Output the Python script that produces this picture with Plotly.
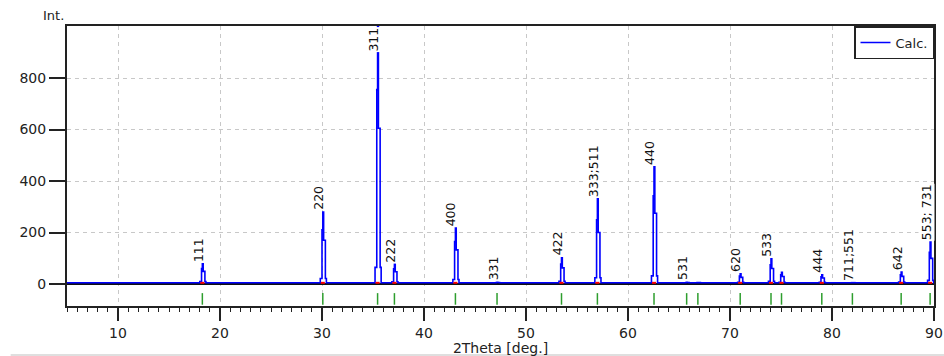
import plotly.graph_objects as go

# ---- data ----
two_theta = [18.27, 30.08, 35.45, 37.10, 43.08, 47.16, 53.48, 57.00, 62.55,
             65.75, 66.85, 71.00, 74.02, 75.05, 79.00, 82.00, 86.78, 89.62]
intensity = [74, 275, 1000, 72, 213, 2, 97, 326, 450,
             2, 1, 35, 93, 41, 31, 1, 42, 158]
hkl = ["111", "220", "311", "222", "400", "331", "422", "333;511", "440",
       "531", "", "620", "533", "", "444", "711;551", "642", "553; 731"]
background = 5
x_range = [5, 90]
y_range = [-85, 1002]
y_ticks = [0, 200, 400, 600, 800]
x_ticks = [10, 20, 30, 40, 50, 60, 70, 80, 90]

# ---- drawing style (peak profile drawn as a narrow stepped spike) ----
PROFILE_DX = [-0.35, -0.25, -0.08, 0.0, 0.08, 0.25, 0.35]
PROFILE_F = [0, 0.06, 0.75, 1, 0.6, 0.06, 0]
TICK_LOW, TICK_HIGH = -80, -35

# Calc. curve
cx, cy = [x_range[0]], [background]
for p, h in zip(two_theta, intensity):
    for dx, f in zip(PROFILE_DX, PROFILE_F):
        cx.append(p + dx)
        cy.append(background + f * h)
cx.append(x_range[1]); cy.append(background)

# reflection ticks
gx, gy = [], []
for p in two_theta:
    gx += [p, p, None]
    gy += [TICK_LOW, TICK_HIGH, None]

# red peak-base marks
rx, ry = [], []
for p, h in zip(two_theta, intensity):
    if h >= 10:
        rx += [p - 0.2, p + 0.2, None]
        ry += [background, background, None]

FONT = "DejaVu Sans"
fig = go.Figure()
fig.add_trace(go.Scatter(x=gx, y=gy, mode="lines", line=dict(color="#2e9e2e", width=1.5),
                         showlegend=False, hoverinfo="skip"))
fig.add_trace(go.Scatter(x=cx, y=cy, mode="lines", line=dict(color="#0000ff", width=1.6, shape="hv"),
                         name="Calc."))
fig.add_trace(go.Scatter(x=rx, y=ry, mode="lines", line=dict(color="#ff0000", width=2),
                         showlegend=False, hoverinfo="skip"))

for p, h, lab in zip(two_theta, intensity, hkl):
    if not lab:
        continue
    top = min(background + h, y_range[1])
    clipped = background + h >= y_range[1]
    fig.add_annotation(x=p, y=top, text=lab, showarrow=False, textangle=-90,
                       xanchor="center", yanchor="top" if clipped else "bottom",
                       yshift=-1 if clipped else 1, xshift=-5 if clipped else -4,
                       bgcolor="white", borderpad=0,
                       font=dict(family=FONT, size=12.5, color="#111"))

fig.add_annotation(text="Int.", xref="paper", yref="paper", x=0, y=1,
                   xanchor="right", yanchor="bottom", xshift=-1, yshift=1,
                   showarrow=False, font=dict(family=FONT, size=13, color="#222"))

# light gray line at the very bottom of the picture
fig.add_shape(type="line", xref="paper", yref="paper", x0=-0.065, x1=1.012,
              y0=-0.175, y1=-0.175, line=dict(color="#d4d4d4", width=1.5))

fig.update_xaxes(range=x_range, tickvals=x_ticks, ticks="outside", ticklen=13, tickwidth=2,
                 tickcolor="#222", showline=True, linecolor="#222", linewidth=2, mirror=True,
                 showgrid=True, gridcolor="#c8c8c8", griddash="4px,4px", gridwidth=1,
                 zeroline=False, automargin=False,
                 minor=dict(dtick=1, ticks="outside", ticklen=4, tickwidth=1, tickcolor="#222",
                            showgrid=False),
                 title=dict(text="2Theta [deg.]", font=dict(family=FONT, size=14, color="#222"),
                            standoff=2),
                 tickfont=dict(family=FONT, size=14, color="#222"))
fig.update_yaxes(range=y_range, tickvals=y_ticks, ticks="outside", ticklen=16, tickwidth=2,
                 tickcolor="#222", showline=True, linecolor="#222", linewidth=2, mirror=True,
                 showgrid=True, gridcolor="#c8c8c8", griddash="4px,4px", gridwidth=1,
                 zeroline=True, zerolinecolor="#111", zerolinewidth=1.6, automargin=False,
                 tickfont=dict(family=FONT, size=14, color="#222"))

fig.update_layout(width=944, height=356, margin=dict(l=67, r=10, t=26, b=50, autoexpand=False),
                  plot_bgcolor="white", paper_bgcolor="white",
                  legend=dict(x=1, y=1, xanchor="right", yanchor="top", bgcolor="white",
                              bordercolor="#222", borderwidth=1.5,
                              font=dict(family=FONT, size=13, color="#222"),
                              itemwidth=30, tracegroupgap=0),
                  showlegend=True)

fig.write_html("out.html", config={"displayModeBar": False},
               post_script="document.body.style.margin='0';document.body.style.overflow='hidden';")
